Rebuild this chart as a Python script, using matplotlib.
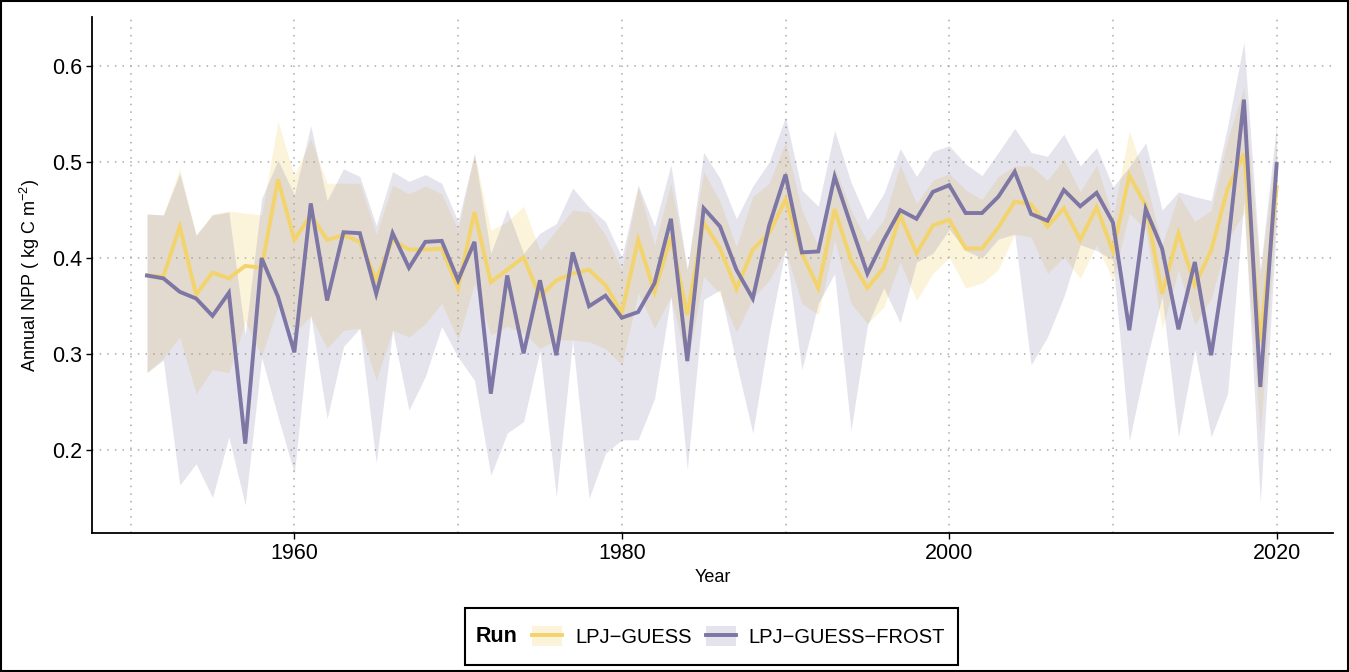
import numpy as np
import matplotlib
matplotlib.use("Agg")
import matplotlib.pyplot as plt
from matplotlib.patches import Patch, Rectangle
from matplotlib.lines import Line2D

plt.rcParams['font.family'] = ['Liberation Sans', 'DejaVu Sans']
plt.rcParams['mathtext.fontset'] = 'custom'
plt.rcParams['mathtext.rm'] = 'Liberation Sans'
plt.rcParams['mathtext.it'] = 'Liberation Sans:italic'

years = np.arange(1951, 2021)

guess = [0.382, 0.381, 0.433, 0.362, 0.385, 0.379, 0.392, 0.390, 0.482, 0.419,
         0.445, 0.419, 0.424, 0.417, 0.378, 0.419, 0.409, 0.409, 0.410, 0.369,
         0.448, 0.375, 0.388, 0.401, 0.360, 0.377, 0.384, 0.388, 0.372, 0.343,
         0.419, 0.365, 0.422, 0.341, 0.437, 0.410, 0.368, 0.409, 0.426, 0.461,
         0.405, 0.369, 0.451, 0.398, 0.369, 0.390, 0.445, 0.405, 0.434, 0.440,
         0.410, 0.410, 0.432, 0.459, 0.456, 0.433, 0.452, 0.419, 0.453, 0.407,
         0.486, 0.455, 0.363, 0.426, 0.372, 0.408, 0.472, 0.509, 0.313, 0.474]
guess_hi = [0.446, 0.445, 0.493, 0.424, 0.446, 0.449, 0.447, 0.445, 0.542, 0.486,
            0.524, 0.478, 0.478, 0.478, 0.425, 0.476, 0.467, 0.475, 0.467, 0.429,
            0.509, 0.429, 0.438, 0.454, 0.408, 0.429, 0.450, 0.448, 0.424, 0.388,
            0.474, 0.414, 0.478, 0.389, 0.490, 0.459, 0.412, 0.464, 0.478, 0.521,
            0.450, 0.412, 0.495, 0.450, 0.417, 0.440, 0.497, 0.457, 0.481, 0.488,
            0.471, 0.461, 0.485, 0.496, 0.496, 0.481, 0.503, 0.469, 0.497, 0.443,
            0.533, 0.481, 0.414, 0.466, 0.438, 0.450, 0.523, 0.578, 0.384, 0.520]
guess_lo = [0.281, 0.296, 0.318, 0.259, 0.284, 0.281, 0.334, 0.298, 0.350, 0.322,
            0.340, 0.306, 0.325, 0.327, 0.273, 0.325, 0.318, 0.332, 0.353, 0.315,
            0.374, 0.320, 0.329, 0.322, 0.306, 0.315, 0.315, 0.313, 0.306, 0.289,
            0.364, 0.327, 0.360, 0.289, 0.381, 0.363, 0.323, 0.358, 0.377, 0.408,
            0.353, 0.341, 0.419, 0.353, 0.332, 0.349, 0.396, 0.356, 0.384, 0.401,
            0.369, 0.374, 0.388, 0.425, 0.422, 0.384, 0.401, 0.379, 0.414, 0.377,
            0.447, 0.430, 0.327, 0.388, 0.331, 0.358, 0.419, 0.447, 0.216, 0.453]

frost = [0.382, 0.379, 0.365, 0.358, 0.340, 0.364, 0.207, 0.400, 0.360, 0.302,
         0.457, 0.356, 0.427, 0.426, 0.363, 0.426, 0.390, 0.417, 0.418, 0.377,
         0.417, 0.259, 0.382, 0.301, 0.377, 0.299, 0.406, 0.350, 0.361, 0.338,
         0.344, 0.374, 0.441, 0.293, 0.452, 0.433, 0.388, 0.358, 0.434, 0.487,
         0.406, 0.407, 0.485, 0.434, 0.384, 0.419, 0.450, 0.441, 0.469, 0.476,
         0.447, 0.447, 0.464, 0.490, 0.446, 0.439, 0.471, 0.454, 0.468, 0.437,
         0.325, 0.451, 0.410, 0.326, 0.396, 0.299, 0.410, 0.565, 0.266, 0.498]
frost_hi = [0.446, 0.445, 0.488, 0.424, 0.445, 0.448, 0.320, 0.462, 0.502, 0.466,
            0.538, 0.460, 0.493, 0.485, 0.434, 0.490, 0.480, 0.487, 0.478, 0.438,
            0.509, 0.405, 0.451, 0.405, 0.426, 0.436, 0.473, 0.453, 0.438, 0.401,
            0.476, 0.433, 0.497, 0.388, 0.510, 0.483, 0.441, 0.475, 0.500, 0.547,
            0.471, 0.454, 0.533, 0.479, 0.440, 0.467, 0.514, 0.485, 0.511, 0.517,
            0.498, 0.486, 0.510, 0.535, 0.510, 0.506, 0.529, 0.496, 0.515, 0.474,
            0.495, 0.520, 0.450, 0.469, 0.464, 0.460, 0.537, 0.625, 0.388, 0.540]
frost_lo = [0.281, 0.294, 0.164, 0.186, 0.151, 0.214, 0.143, 0.297, 0.235, 0.176,
            0.341, 0.233, 0.308, 0.327, 0.187, 0.325, 0.242, 0.277, 0.329, 0.297,
            0.273, 0.174, 0.218, 0.230, 0.304, 0.152, 0.315, 0.150, 0.197, 0.211,
            0.211, 0.254, 0.360, 0.180, 0.357, 0.367, 0.291, 0.218, 0.322, 0.410,
            0.284, 0.353, 0.384, 0.221, 0.330, 0.369, 0.333, 0.396, 0.405, 0.430,
            0.408, 0.400, 0.420, 0.425, 0.289, 0.318, 0.360, 0.414, 0.408, 0.398,
            0.210, 0.290, 0.360, 0.214, 0.305, 0.214, 0.259, 0.460, 0.146, 0.440]

runs = ['LPJ\u2212GUESS', 'LPJ\u2212GUESS\u2212FROST']
col_guess = '#F3D46C'
col_frost = '#7E76A4'

fig = plt.figure(figsize=(13.49, 6.72), dpi=100)
ax = fig.add_axes([92 / 1349, 1 - 533 / 672, (1333 - 92) / 1349, (533 - 17) / 672])

ax.fill_between(years, guess_lo, guess_hi, color=col_guess, alpha=0.25, linewidth=0)
ax.fill_between(years, frost_lo, frost_hi, color=col_frost, alpha=0.2, linewidth=0)
ax.plot(years, guess, color=col_guess, lw=2.8, solid_joinstyle='miter')
ax.plot(years, frost, color=col_frost, lw=2.8, solid_joinstyle='miter')

ax.set_xlim(1947.64, 2023.44)
ax.set_ylim(0.114, 0.651)
ax.set_xticks([1960, 1980, 2000, 2020])
ax.set_xticks([1950, 1970, 1990, 2010], minor=True)
ax.set_yticks([0.2, 0.3, 0.4, 0.5, 0.6])
ax.set_yticklabels(['0.2', '0.3', '0.4', '0.5', '0.6'])
ax.grid(True, which='both', linestyle=(0, (1, 4)), color='#aaaaaa', linewidth=1.1)
ax.tick_params(which='minor', length=0)
ax.tick_params(which='major', length=4, width=1, color='black', labelsize=15.5,
               labelcolor='black', pad=3)
ax.set_axisbelow(True)

for s in ['top', 'right']:
    ax.spines[s].set_visible(False)
for s in ['left', 'bottom']:
    ax.spines[s].set_linewidth(1.3)

ax.set_xlabel('Year', fontsize=13, labelpad=4)
ax.set_ylabel(r'Annual NPP ( kg C m$^{-2}$)', fontsize=13, labelpad=7)

# legend at the bottom with "Run" to the left
handles = [(Patch(facecolor=col_guess, alpha=0.25, edgecolor='none'), Line2D([], [], color=col_guess, lw=2.8)),
           (Patch(facecolor=col_frost, alpha=0.2, edgecolor='none'), Line2D([], [], color=col_frost, lw=2.8))]
fig.legend(handles, runs, ncol=2, loc='center', bbox_to_anchor=(738.5 / 1349, 1 - 636.5 / 672),
           frameon=False, fontsize=14.5, handlelength=1.5, handleheight=1.1,
           columnspacing=0.7, handletextpad=0.65)
fig.patches.append(Rectangle((465 / 1349, 1 - 665 / 672), 493 / 1349, 57 / 672,
                             transform=fig.transFigure, fill=False, edgecolor='black', lw=1.5))
fig.text(476 / 1349, 1 - 637 / 672, 'Run', fontsize=15.5, fontweight='bold', va='center', ha='left')

fig.patches.append(Rectangle((0.001, 0.001), 0.998, 0.998, transform=fig.transFigure,
                             fill=False, edgecolor='black', lw=1.5))

plt.savefig('out.png', dpi=100)
